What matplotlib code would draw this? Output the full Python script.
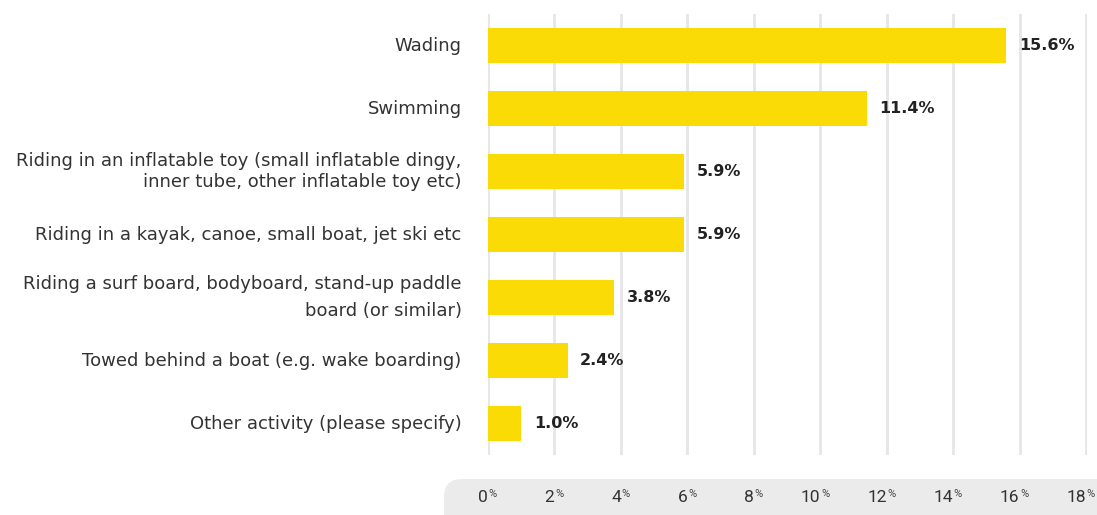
import matplotlib
matplotlib.use("Agg")
import matplotlib.pyplot as plt
from matplotlib.patches import FancyBboxPatch
from matplotlib.transforms import blended_transform_factory

categories = [
    "Wading",
    "Swimming",
    "Riding in an inflatable toy (small inflatable dingy,\ninner tube, other inflatable toy etc)",
    "Riding in a kayak, canoe, small boat, jet ski etc",
    "Riding a surf board, bodyboard, stand-up paddle\nboard (or similar)",
    "Towed behind a boat (e.g. wake boarding)",
    "Other activity (please specify)",
]
values = [15.6, 11.4, 5.9, 5.9, 3.8, 2.4, 1.0]
ticks = [0, 2, 4, 6, 8, 10, 12, 14, 16, 18]

W, H = 1097, 515
fig = plt.figure(figsize=(W / 100, H / 100), dpi=100)

# background axes in pixel units, for the grey pill under the tick labels
bg = fig.add_axes([0, 0, 1, 1], zorder=0)
bg.set_xlim(0, W)
bg.set_ylim(H, 0)
bg.axis("off")
bg.add_patch(FancyBboxPatch((444, 479), 700, 60, boxstyle="round,pad=0,rounding_size=18",
                            facecolor="#ebebeb", edgecolor="none"))

ax = fig.add_axes([488 / W, (H - 455) / H, (1087 - 488) / W, (455 - 14) / H], zorder=2)
ax.patch.set_alpha(0)

y = list(range(len(categories)))
ax.barh(y, values, height=0.54, color="#fadb05", zorder=3)
ax.set_xlim(0, 18.03)
ax.set_ylim(len(categories) - 0.5, -0.5)

ax.set_xticks(ticks)
ax.set_xticklabels([])
ax.set_yticks([])
ax.tick_params(axis="x", length=0)
ax.grid(axis="x", color="#e6e6e6", lw=2, zorder=0)
for s in ax.spines.values():
    s.set_visible(False)

line_sp = {2: 1.25, 4: 1.7}
shift = {2: 0, 4: 0}
for i, c in enumerate(categories):
    ax.annotate(c, (0, i), xycoords=("axes fraction", "data"), xytext=(-19, shift.get(i, -0.5)),
                textcoords="offset points", ha="right", va="center", multialignment="right",
                fontsize=13, color="#333333", linespacing=line_sp.get(i, 1.2),
                annotation_clip=False)

for i, v in enumerate(values):
    ax.annotate(f"{v:.1f}%", (v, i), xytext=(9, 0), textcoords="offset points",
                va="center", ha="left", fontsize=11.5, fontweight="bold", color="#222222")

tr = blended_transform_factory(ax.transData, fig.transFigure)
for t in ticks:
    ax.text(t, (H - 498) / H, str(t), transform=tr, ha="right", va="center",
            fontsize=12.5, family="Roboto", color="#333333", clip_on=False)
    ax.annotate("%", (t, (H - 498) / H), xycoords=tr, xytext=(0.5, 3), textcoords="offset points",
                ha="left", va="center", fontsize=8, family="Roboto", color="#444444",
                annotation_clip=False)

fig.savefig("out.png", dpi=100)
